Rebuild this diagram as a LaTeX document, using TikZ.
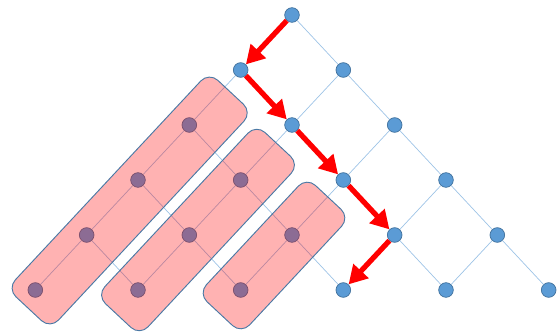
\documentclass[tikz,border=0pt]{standalone}
\usepackage{tikz}
\usepackage{color}
\usetikzlibrary{calc,arrows.meta}
\definecolor{nodeblue}{HTML}{5B9BD5}
\definecolor{nodeline}{HTML}{41719C}
\definecolor{edgeblue}{HTML}{9DC3E6}
\definecolor{bandline}{HTML}{4A79A5}

\begin{document}
\begin{tikzpicture}[x=1.54cm,y=1.65cm,
  dot/.style={circle,fill=nodeblue,draw=nodeline,line width=0.6pt,inner sep=0pt,minimum size=0.44cm},
  edge/.style={edgeblue,line width=0.6pt},
  bandbox/.style={rectangle,rounded corners=0.36cm,fill=red,fill opacity=0.3,draw=bandline,draw opacity=1,line width=0.8pt,minimum height=1.77cm,inner sep=0pt,rotate=47},
  walk/.style={red,line width=4.5pt,-{Triangle[length=0.55cm,width=0.6cm]}}]
  \useasboundingbox (-8.76cm,-9.51cm) rectangle (7.95cm,0.45cm);
  % the lattice
  \node (n00) at (0, 0)[dot]{};
         \node (n10) at (-1, -1)[dot]{};
         \node (n11) at (1, -1)[dot]{};
         \node (n20) at (-2, -2)[dot]{};
         \node (n21) at (0, -2)[dot]{};
         \node (n22) at (2, -2)[dot]{};
         \node (n30) at (-3, -3)[dot]{};
         \node (n31) at (-1, -3)[dot]{};
         \node (n32) at (1, -3)[dot]{};
         \node (n33) at (3, -3)[dot]{};
         \node (n40) at (-4, -4)[dot]{};
         \node (n41) at (-2, -4)[dot]{};
         \node (n42) at (0, -4)[dot]{};
         \node (n43) at (2, -4)[dot]{};
         \node (n44) at (4, -4)[dot]{};
         \node (n50) at (-5, -5)[dot]{};
         \node (n51) at (-3, -5)[dot]{};
         \node (n52) at (-1, -5)[dot]{};
         \node (n53) at (1, -5)[dot]{};
         \node (n54) at (3, -5)[dot]{};
         \node (n55) at (5, -5)[dot]{};
         \draw [edge] (n00) -- (n10) -- (n20) -- (n30) -- (n40) -- (n50);
         \draw [edge] (n11) -- (n21) -- (n31) -- (n41) -- (n51);
         \draw [edge] (n22) -- (n32) -- (n42) -- (n52);
         \draw [edge] (n33) -- (n43) -- (n53);
         \draw [edge] (n44) -- (n54);
         \draw [edge] (n00) -- (n11) -- (n22) -- (n33) -- (n44) -- (n55);
         \draw [edge] (n10) -- (n21) -- (n32) -- (n43) -- (n54);
         \draw [edge] (n20) -- (n31) -- (n42) -- (n53);
         \draw [edge] (n30) -- (n41) -- (n52);
         \draw [edge] (n40) -- (n51);
  % the bands
         \node [bandbox,minimum width=8.88cm] (b1) at ($(n20)!0.5!(n50)+(0.52cm,0.21cm)$) {};
         \node [bandbox,minimum width=7.02cm] (b2) at ($(n31)!0.5!(n51)+(0.26cm,0.15cm)$) {};
         \node [bandbox,minimum width=4.77cm] (b3) at ($(n42)!0.5!(n52)+(0.23cm,0.21cm)$) {};
  % the path
         \draw [walk] (n00) -- (n10);
         \draw [walk] (n10) -- (n21);
         \draw [walk] (n21) -- (n32);
         \draw [walk] (n32) -- (n43);
         \draw [walk] (n43) -- (n53);
    \end{tikzpicture}
\end{document}
